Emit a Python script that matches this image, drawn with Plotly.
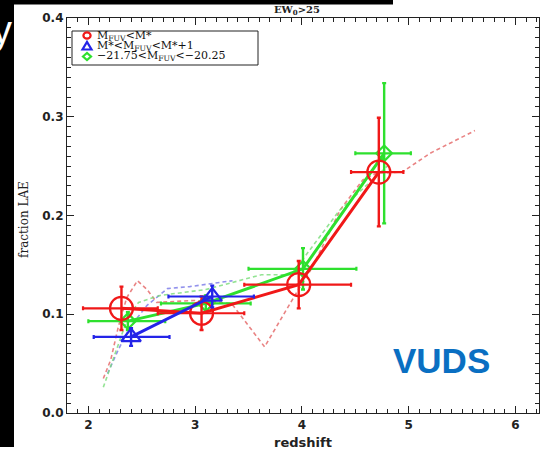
import plotly.graph_objects as go

# ---- measured LAE fractions (EW0 > 25) ----
# M_FUV < M*
red_z = [2.31, 3.06, 3.97, 4.72]
red_f = [0.106, 0.101, 0.130, 0.244]
red_zerr_lo = [0.36, 0.41, 0.51, 0.26]
red_zerr_hi = [0.34, 0.40, 0.49, 0.23]
red_ferr = [0.022, 0.017, 0.024, 0.055]

# M* < M_FUV < M* + 1
blue_z = [2.40, 3.16]
blue_f = [0.077, 0.118]
blue_zerr_lo = [0.35, 0.41]
blue_zerr_hi = [0.36, 0.39]
blue_ferr = [0.009, 0.011]

# -21.75 < M_FUV < -20.25
green_z = [2.37, 3.10, 4.01, 4.77]
green_f = [0.093, 0.111, 0.146, 0.263]
green_zerr_lo = [0.37, 0.42, 0.51, 0.27]
green_zerr_hi = [0.35, 0.42, 0.50, 0.25]
green_ferr = [0.009, 0.008, 0.021, 0.071]

# ---- dashed comparison curves ----
red_model_z = [2.14, 2.21, 2.28, 2.36, 2.46, 2.55, 2.64, 3.00, 3.34, 3.65, 3.95, 4.10, 4.36, 4.57, 4.70, 4.94, 5.20, 5.62]
red_model_f = [0.035, 0.054, 0.087, 0.117, 0.134, 0.125, 0.112, 0.114, 0.111, 0.067, 0.122, 0.148, 0.206, 0.236, 0.243, 0.244, 0.263, 0.286]
blue_model_z = [2.18, 2.28, 2.39, 2.55, 2.74, 2.95, 3.35]
blue_model_f = [0.040, 0.064, 0.087, 0.109, 0.126, 0.128, 0.134]
green_model_z = [2.14, 2.21, 2.30, 2.37, 2.47, 2.67, 3.10, 3.62, 3.90, 4.35, 4.80]
green_model_f = [0.026, 0.047, 0.074, 0.097, 0.112, 0.119, 0.125, 0.140, 0.140, 0.205, 0.250]

x_ticks = [2, 3, 4, 5, 6]
y_ticks = [0.0, 0.1, 0.2, 0.3, 0.4]

RED, BLUE, GREEN = "#f01818", "#2424e8", "#2ee02e"

W, H = 542, 450
ML, MR, MT, MB = 67, 3, 18, 37
PW, PH = W - ML - MR, H - MT - MB


def px(x):
    return (x - ML) / PW


def py(y):
    return (H - MB - y) / PH


fig = go.Figure()

for zz, ff, col in [(red_model_z, red_model_f, "rgba(225,90,90,0.75)"),
                    (blue_model_z, blue_model_f, "rgba(110,110,230,0.75)"),
                    (green_model_z, green_model_f, "rgba(120,220,120,0.8)")]:
    fig.add_trace(go.Scatter(x=zz, y=ff, mode="lines",
                             line=dict(color=col, width=1.6, dash="4px,3px"),
                             hoverinfo="skip"))


def series(z, f, zlo, zhi, ferr, col, symbol, size):
    fig.add_trace(go.Scatter(
        x=z, y=f, mode="lines+markers",
        line=dict(color=col, width=3),
        marker=dict(symbol=symbol, size=size, color=col,
                    line=dict(color=col, width=2.2)),
        error_x=dict(type="data", symmetric=False, array=zhi, arrayminus=zlo,
                     color=col, thickness=2.2, width=2),
        error_y=dict(type="data", array=ferr, color=col, thickness=2.4, width=2),
    ))


series(green_z, green_f, green_zerr_lo, green_zerr_hi, green_ferr, GREEN, "diamond-open", 12)
series(red_z, red_f, red_zerr_lo, red_zerr_hi, red_ferr, RED, "circle-open", 23)
series(blue_z, blue_f, blue_zerr_lo, blue_zerr_hi, blue_ferr, BLUE, "triangle-up-open", 17)

axis_common = dict(
    showgrid=False, zeroline=False, showline=True, linecolor="#222", linewidth=1.2,
    mirror="ticks", ticks="inside", ticklen=7, tickwidth=1, tickcolor="#222",
    tickfont=dict(family="DejaVu Sans", size=12, color="#222", weight="bold"),
)

fig.update_xaxes(range=[1.8, 6.22], tickvals=x_ticks, **axis_common,
                 minor=dict(ticks="inside", dtick=0.1, tick0=0, ticklen=3.5, tickcolor="#222"))
fig.update_yaxes(range=[0, 0.4], tickvals=y_ticks, tickformat=".1f", **axis_common,
                 minor=dict(ticks="inside", dtick=0.01, tick0=0, ticklen=3.5, tickcolor="#222"))

shapes = [
    # dark slide edges
    dict(type="rect", xref="paper", yref="paper", x0=px(0), x1=px(14), y0=py(447), y1=py(0),
         fillcolor="black", line_width=0, layer="above"),
    dict(type="rect", xref="paper", yref="paper", x0=px(0), x1=px(393), y0=py(4.5), y1=py(0),
         fillcolor="black", line_width=0, layer="above"),
    # legend frame
    dict(type="rect", xref="paper", yref="paper", x0=px(72), x1=px(258), y0=py(65), y1=py(31),
         fillcolor="white", line=dict(color="#222", width=1), layer="above"),
]

LEG_FONT = dict(family="DejaVu Serif", size=11, color="#111")
SYM_X = 87
legend_rows = [
    (35.5, RED, "circle", "M<sub>FUV</sub><M*"),
    (46, BLUE, "triangle", "M*<M<sub>FUV</sub><M*+1"),
    (56.5, GREEN, "diamond", "−21.75<M<sub>FUV</sub><−20.25"),
]
annotations = []
for yy, col, sym, label in legend_rows:
    # legend key symbol, drawn as an open outline
    if sym == "circle":
        shapes.append(dict(type="circle", xref="paper", yref="paper",
                           x0=px(SYM_X - 3.6), x1=px(SYM_X + 3.6), y0=py(yy + 3.2), y1=py(yy - 3.2),
                           line=dict(color=col, width=2.2), layer="above"))
    elif sym == "triangle":
        path = "M {} {} L {} {} L {} {} Z".format(px(SYM_X - 4.5), py(yy + 3.5), px(SYM_X + 4.5),
                                                   py(yy + 3.5), px(SYM_X), py(yy - 4))
        shapes.append(dict(type="path", xref="paper", yref="paper", path=path,
                           line=dict(color=col, width=2.2), layer="above"))
    else:
        path = "M {} {} L {} {} L {} {} L {} {} Z".format(px(SYM_X - 4), py(yy), px(SYM_X), py(yy - 3.5),
                                                          px(SYM_X + 4), py(yy), px(SYM_X), py(yy + 3.5))
        shapes.append(dict(type="path", xref="paper", yref="paper", path=path,
                           line=dict(color=col, width=2.2), layer="above"))
    annotations.append(dict(xref="paper", yref="paper", x=px(95), y=py(yy), xanchor="left",
                            yanchor="middle", showarrow=False, text=label, font=LEG_FONT))

annotations += [
    dict(xref="paper", yref="paper", x=px(297), y=py(11), xanchor="center", yanchor="middle",
         showarrow=False, text="<b>EW<sub>0</sub>>25</b>",
         font=dict(family="DejaVu Serif", size=10, color="#222")),
    dict(xref="paper", yref="paper", x=px(24), y=py(220), xanchor="center", yanchor="middle",
         showarrow=False, text="fraction LAE", textangle=-90,
         font=dict(family="DejaVu Serif", size=12, color="#222")),
    dict(xref="paper", yref="paper", x=px(303), y=py(442), xanchor="center", yanchor="middle",
         showarrow=False, text="<b>redshift</b>",
         font=dict(family="DejaVu Sans", size=13, color="#222")),
    dict(xref="paper", yref="paper", x=px(441), y=py(360), xanchor="center", yanchor="middle",
         showarrow=False, text="<b>VUDS</b>",
         font=dict(family="Liberation Sans", size=35, color="#0a6fc2")),
    dict(xref="paper", yref="paper", x=px(14), y=py(30), xanchor="right", yanchor="middle",
         showarrow=False, text="y", font=dict(family="Liberation Sans", size=40, color="white")),
]

fig.update_layout(
    width=W, height=H, margin=dict(l=ML, r=MR, t=MT, b=MB),
    paper_bgcolor="white", plot_bgcolor="white", showlegend=False,
    shapes=shapes, annotations=annotations,
)

fig.write_html("out.html")
